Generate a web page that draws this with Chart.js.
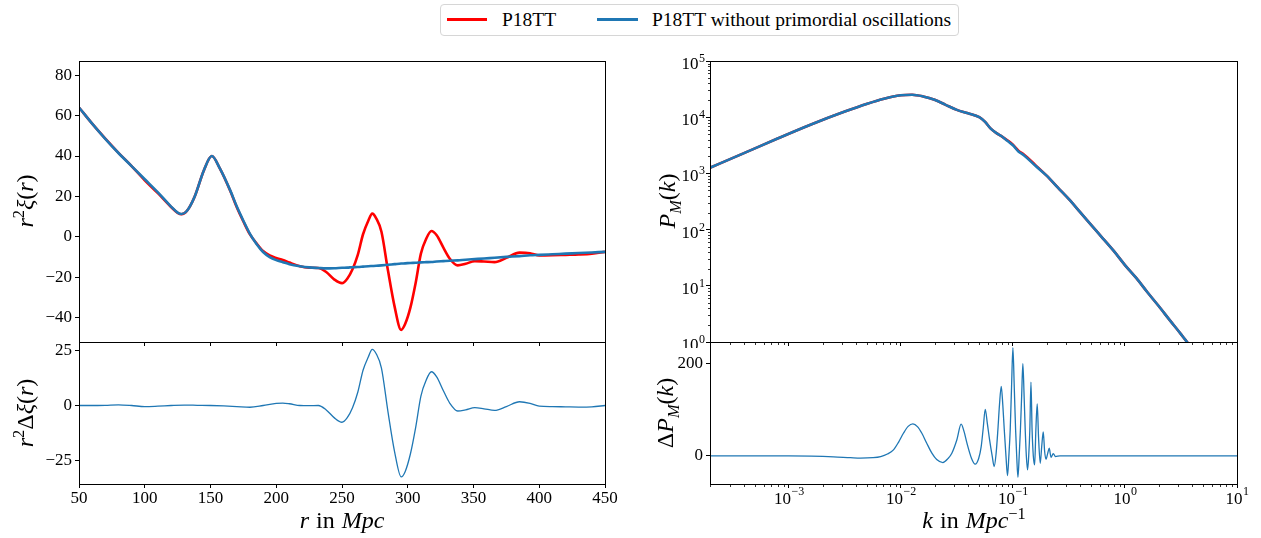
<!DOCTYPE html>
<html lang="en"><head><meta charset="utf-8"><title>P18TT correlation function and power spectrum</title>
<script src="https://cdn.jsdelivr.net/npm/chart.js@4.4.1/dist/chart.umd.min.js"></script>
<style>
html,body{margin:0;padding:0;background:#fff;}
body{position:relative;width:1261px;height:538px;overflow:hidden;font-family:"Liberation Serif","Times New Roman",serif;color:#000;}
canvas{position:absolute;}
.t{position:absolute;white-space:nowrap;line-height:1;}
.ax{font-size:24px;word-spacing:1px;}
.ax sup,.ax sub{font-size:0.68em;line-height:0;}
.rot{transform:translate(-50%,-50%) rotate(-90deg);}
.hc{transform:translateX(-50%);}
#legend{position:absolute;left:440px;top:4px;width:519px;height:32px;box-sizing:border-box;border:1px solid #d6d6d6;border-radius:4px;}
.sw{position:absolute;height:3px;}
.lt{position:absolute;font-size:19.5px;line-height:1;white-space:nowrap;}
</style></head>
<body>
<div id="legend"></div>
<div class="sw" style="left:447px;top:18px;width:40px;background:#ff0000;"></div>
<div class="lt" style="left:502px;top:10px;">P18TT</div>
<div class="sw" style="left:597px;top:18px;width:41px;background:#1f77b4;"></div>
<div class="lt" style="left:652px;top:10px;">P18TT without primordial oscillations</div>

<canvas id="tl"></canvas>
<canvas id="bl"></canvas>
<canvas id="tr"></canvas>
<canvas id="br"></canvas>

<div class="t ax rot" style="left:25px;top:201px;"><i>r</i><sup>2</sup><i>ξ</i>(<i>r</i>)</div>
<div class="t ax rot" style="left:25px;top:413px;"><i>r</i><sup>2</sup>Δ<i>ξ</i>(<i>r</i>)</div>
<div class="t ax rot" style="left:667px;top:201px;"><i>P</i><sub><i>M</i></sub>(<i>k</i>)</div>
<div class="t ax rot" style="left:665px;top:413px;">Δ<i>P</i><sub><i>M</i></sub>(<i>k</i>)</div>
<div class="t ax hc" style="left:342px;top:508px;"><i>r</i> in <i>Mpc</i></div>
<div class="t ax hc" style="left:974px;top:508px;"><i>k</i> in <i>Mpc</i><sup>−1</sup></div>

<script>
// ---------- data ----------
// top-left: r^2 xi(r)
const rTop = [50,60,70,80,90,100,110,120,125,128,132,138,145,151,157,165,170,175,180,185,190,195,200,205,210,218,225,232,238,244,250,254,258,262,266,270,273,276,280,285,290,295,298,302,306,310,314,318,322,327,332,338,344,351,358,366,375,385,393,400,410,420,430,440,450];
const xiBlue = [64,56,48.5,41.5,35,28.5,22,15,12,11.3,12.8,20,33,40,34,23,15,8,1.5,-3.5,-7.5,-10,-11.5,-12.5,-13.5,-14.5,-15.1,-15.4,-15.6,-15.5,-15.3,-15.2,-15.0,-14.9,-14.7,-14.5,-14.4,-14.3,-14.1,-13.8,-13.5,-13.2,-13.1,-12.9,-12.8,-12.6,-12.5,-12.4,-12.2,-12.0,-11.8,-11.6,-11.3,-11.0,-10.7,-10.3,-9.9,-9.5,-9.1,-8.9,-8.6,-8.3,-8.0,-7.7,-7.4];
const xiRed = [64,56,48.6,41.6,35,28,21.6,14.8,11.9,11.2,12.8,20,33,40,34,22.8,14.6,7.6,1.2,-3.2,-7,-9.2,-10.5,-11.4,-12.7,-14.5,-15.2,-15.4,-17.4,-21,-22.9,-20.7,-16,-8.9,1.3,8,11.5,9.2,2.5,-16.8,-34.5,-46,-43.1,-35,-22.8,-8.3,-1,2.9,0.8,-5.2,-10.8,-14.1,-13.3,-12,-12.2,-12.5,-10.4,-7.8,-8.1,-9.2,-9.1,-8.9,-8.7,-8.3,-7.4];
// bottom-left: r^2 delta xi(r)
const rDelta = [50,60,70,80,90,100,110,120,130,140,150,160,170,180,190,200,205,210,218,225,232,238,244,250,254,258,262,266,270,273,276,280,285,290,295,298,302,306,310,314,318,322,327,332,338,344,351,358,366,375,385,393,400,410,420,430,440,450];
const xiDelta = [0,0,0.1,0.3,0,-0.5,-0.3,0,0.2,0.1,0,-0.2,-0.5,-0.8,0,1,1.1,0.8,0,-0.1,0,-2,-5.5,-7.6,-5.5,-1,6,16,22,25.5,23.5,17,-3,-21,-32.4,-30,-22,-10,4.3,11.5,15.3,13,6.8,1,-2.5,-2,-1,-1.5,-2.2,-0.5,1.7,1,-0.3,-0.5,-0.6,-0.7,-0.6,0];
// top-right: P_M(k)
const kP = [1.98e-4,3.98e-4,7.94e-4,1.58e-3,3.16e-3,5.01e-3,7.08e-3,0.01,0.0126,0.0158,0.02,0.0251,0.0316,0.0398,0.0501,0.0562,0.0631,0.0708,0.0794,0.0891,0.1,0.112,0.126,0.158,0.2,0.251,0.316,0.398,0.501,0.631,0.794,1.0,1.26,1.58,2.0,2.51,3.16,3.98];
const pBlue = [1259,2291,4169,7413,12589,17378,21380,24547,25119,23442,20417,16596,13490,11749,10000,8318,6310,5248,4571,3802,3162,2455,2089,1380,912,562,347,204,120,70.8,41.7,23.4,13.8,7.76,4.37,2.45,1.38,0.76];
const pRed = [1259,2291,4169,7413,12589,17378,21380,24547,25119,23442,20417,16596,13490,11749,10000,8318,6310,5248,4571,3900,3250,2540,2150,1420,912,562,347,204,120,70.8,41.7,23.4,13.8,7.76,4.37,2.45,1.38,0.76];
// bottom-right: delta P_M(k)
const kDelta = [1.98e-4,5.01e-4,1e-3,1.585e-3,2.512e-3,3.548e-3,4.365e-3,5.623e-3,6.607e-3,7.586e-3,8.59e-3,9.55e-3,0.01054,0.01161,0.0128,0.01413,0.0154,0.01698,0.01892,0.02089,0.02371,0.0263,0.02851,0.03162,0.03451,0.03673,0.0389,0.04266,0.04603,0.04955,0.05212,0.05433,0.05662,0.05916,0.06194,0.06531,0.06808,0.07079,0.07345,0.07586,0.0787,0.08128,0.08375,0.0867,0.08954,0.09204,0.09462,0.09727,0.1,0.1028,0.1057,0.1081,0.1109,0.1138,0.1167,0.1197,0.1227,0.1259,0.1288,0.1318,0.1352,0.1384,0.1416,0.1449,0.1483,0.1521,0.1563,0.1603,0.1648,0.1694,0.1754,0.1807,0.1866,0.1919,0.1972,0.2042,0.2109,0.2188,0.2291,0.2399,0.263,10];
const pDelta = [0,0,0,-0.5,-2,-4,-5,-4,-1.5,4,13,30,49,64,69.6,63,49,28,5.8,-8,-14.5,-6,5.8,35,68.8,52,27.5,-5,-18,-5,20,60,101,70,34.8,0,-23,5,56.5,110,150.7,110,56.5,0,-42.8,0,56.5,150,235,150,56.5,0,-46.4,0,56.5,130,200,130,56.5,0,-30.4,0,56.5,160,56.5,0,-19.6,56.5,113,40,-16,20,52,10,-7.2,5,16.7,-3,5,-1.5,0,0];
// ticks
const rTicks = [50,100,150,200,250,300,350,400,450];
const xiTicks = [-40,-20,0,20,40,60,80];
const dxiTicks = [-25,0,25];
const dpTicks = [0,200];
const kMajor = [1e-3,1e-2,1e-1,1,10];
const kMajorLabels = ['−3','−2','−1','0','1'];
const pMajor = [1,10,100,1000,10000,100000];
const pMajorLabels = ['0','1','2','3','4','5'];

// ---------- helpers ----------
const FONT = '"Liberation Serif","Times New Roman",serif';
const BLUE = '#1f77b4', RED = '#ff0000';
function pts(xs, ys){ return xs.map((x,i)=>({x:x, y:ys[i]})); }
function fmt(v){ return (v<0?'\u2212':'') + Math.abs(v); }
function minorLog(lo, hi){ const out=[]; for(let e=-5;e<=5;e++) for(let m=2;m<=9;m++){ const v=m*Math.pow(10,e); if(v>lo*1.0001 && v<hi*0.9999) out.push(v);} return out; }

const decor = {
  id:'decor',
  afterDraw(chart, args, o){
    const ctx = chart.ctx, a = chart.chartArea;
    ctx.save();
    ctx.strokeStyle = '#000';
    ctx.lineWidth = 0.8;
    if (o.minorX) { const s = chart.scales.x; o.minorX.forEach(v=>{ const p=Math.round(s.getPixelForValue(v))+0.5; ctx.beginPath(); ctx.moveTo(p, Math.round(a.bottom)+0.5); ctx.lineTo(p, Math.round(a.bottom)+3); ctx.stroke(); }); }
    if (o.minorY) { const s = chart.scales.y; o.minorY.forEach(v=>{ const p=Math.round(s.getPixelForValue(v))+0.5; ctx.beginPath(); ctx.moveTo(Math.round(a.left)+0.5, p); ctx.lineTo(Math.round(a.left)-2, p); ctx.stroke(); }); }
    ctx.lineWidth = 1;
    const x0=Math.round(a.left)+0.5, x1=Math.round(a.right)+0.5, y0=Math.round(a.top)+0.5, y1=Math.round(a.bottom)+0.5;
    ctx.strokeRect(x0, y0, x1-x0, y1-y0);
    ctx.fillStyle = '#000';
    ctx.textBaseline = 'alphabetic';
    if (o.supX) { const s = chart.scales.x;
      o.supX.values.forEach((v,i)=>{
        const px = s.getPixelForValue(v);
        ctx.font = '17px '+FONT; const w1 = ctx.measureText('10').width;
        ctx.font = '12px '+FONT; const w2 = ctx.measureText(o.supX.labels[i]).width;
        const xs = px - (w1+w2)/2;
        ctx.textAlign='left';
        ctx.font = '17px '+FONT; ctx.fillText('10', xs, a.bottom+20);
        ctx.font = '12px '+FONT; ctx.fillText(o.supX.labels[i], xs+w1+0.5, a.bottom+11);
      }); }
    if (o.supY) { const s = chart.scales.y;
      o.supY.values.forEach((v,i)=>{
        const py = s.getPixelForValue(v);
        const xr = a.left - 5;
        ctx.textAlign='right';
        ctx.font = '12px '+FONT; const w2 = ctx.measureText(o.supY.labels[i]).width;
        ctx.fillText(o.supY.labels[i], xr, py+1);
        ctx.font = '17px '+FONT; ctx.fillText('10', xr - w2 - 0.5, py+8);
      }); }
    ctx.restore();
  }
};

function axis(o){
  return {
    type:o.type, min:o.min, max:o.max, position:o.pos,
    border:{display:false},
    grid:{display:true, drawOnChartArea:false, drawTicks:true, tickLength:4, tickColor:'#000', tickWidth:1},
    ticks:{display:!!o.show, autoSkip:false, maxRotation:0, minRotation:0, includeBounds:false, color:'#000',
           font:{family:FONT, size:17}, padding:(o.pad!==undefined?o.pad:3),
           callback:(v)=> o.show ? fmt(v) : ''},
    afterBuildTicks:(s)=>{ s.ticks = o.values.map(v=>({value:v})); },
    afterFit:(s)=>{ if(o.pos==='bottom'){ s.height=o.size; s.paddingLeft=0; s.paddingRight=0; } else { s.width=o.size; s.paddingTop=0; s.paddingBottom=0; } }
  };
}

function panel(id, box, c){
  const padT=c.padT, padR=20;
  const L = box.l - c.yW, T = box.t - padT;
  const W = box.r + padR - L, H = box.b + c.xH - T;
  const cv = document.getElementById(id);
  cv.width=W; cv.height=H; cv.style.left=L+'px'; cv.style.top=T+'px'; cv.style.width=W+'px'; cv.style.height=H+'px';
  return new Chart(cv, {
    type:'line',
    data:{datasets:c.datasets},
    options:{
      responsive:false, animation:false, devicePixelRatio:1,
      layout:{padding:{left:0, top:padT, right:padR, bottom:0}},
      plugins:{legend:{display:false}, tooltip:{enabled:false}, decor:c.decor||{}},
      elements:{point:{radius:0}},
      scales:{ x:c.x, y:c.y }
    },
    plugins:[decor]
  });
}
function ds(xs, ys, color, width, order){
  return {data:pts(xs,ys), borderColor:color, backgroundColor:color, borderWidth:width, pointRadius:0, fill:false, cubicInterpolationMode:'monotone', order:order};
}

const TL={l:79,t:61,r:605,b:342}, BL={l:79,t:342,r:605,b:484};
const TR={l:710,t:61,r:1237,b:342}, BR={l:710,t:342,r:1237,b:484};

panel('tl', TL, {yW:79, padT:10, xH:6,
  datasets:[ds(rTop,xiRed,RED,2.6,1), ds(rTop,xiBlue,BLUE,2.6,0)],
  x:axis({type:'linear',min:50,max:450,pos:'bottom',values:rTicks,show:false,size:6}),
  y:axis({type:'linear',min:-52,max:87,pos:'left',values:xiTicks,show:true,size:79})
});
panel('bl', BL, {yW:79, padT:6, xH:54,
  datasets:[ds(rDelta,xiDelta,BLUE,1.3,0)],
  x:axis({type:'linear',min:50,max:450,pos:'bottom',values:rTicks,show:true,size:54,pad:0}),
  y:axis({type:'linear',min:-35.6,max:28.8,pos:'left',values:dxiTicks,show:true,size:79})
});
panel('tr', TR, {yW:90, padT:10, xH:6,
  datasets:[ds(kP,pRed,RED,2.6,1), ds(kP,pBlue,BLUE,2.6,0)],
  x:axis({type:'logarithmic',min:1.98e-4,max:10,pos:'bottom',values:kMajor,show:false,size:6}),
  y:axis({type:'logarithmic',min:1,max:100000,pos:'left',values:pMajor,show:false,size:90}),
  decor:{minorX:minorLog(1.98e-4,10), minorY:minorLog(1,100000), supY:{values:pMajor,labels:pMajorLabels}}
});
panel('br', BR, {yW:90, padT:6, xH:54,
  datasets:[ds(kDelta,pDelta,BLUE,1.3,0)],
  x:axis({type:'logarithmic',min:1.98e-4,max:10,pos:'bottom',values:kMajor,show:false,size:54}),
  y:axis({type:'linear',min:-61,max:247,pos:'left',values:dpTicks,show:true,size:90}),
  decor:{minorX:minorLog(1.98e-4,10), supX:{values:kMajor,labels:kMajorLabels}}
});
</script>
</body></html>
